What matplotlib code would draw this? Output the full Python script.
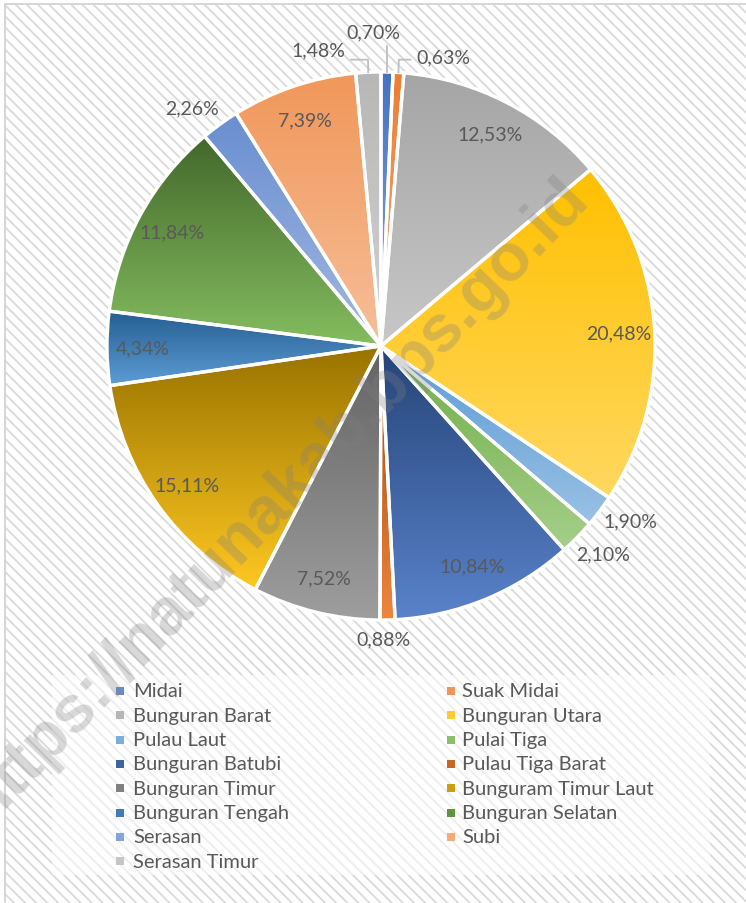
import colorsys
import numpy as np
import matplotlib
matplotlib.use("Agg")
import matplotlib.pyplot as plt
import matplotlib.colors as mcolors
from matplotlib.patches import Rectangle
from matplotlib.lines import Line2D

plt.rcParams['font.family'] = ['Lato', 'DejaVu Sans']
plt.rcParams['hatch.linewidth'] = 1.3

kecamatan = ['Midai', 'Suak Midai', 'Bunguran Barat', 'Bunguran Utara', 'Pulau Laut',
             'Pulai Tiga', 'Bunguran Batubi', 'Pulau Tiga Barat', 'Bunguran Timur',
             'Bunguram Timur Laut', 'Bunguran Tengah', 'Bunguran Selatan', 'Serasan',
             'Subi', 'Serasan Timur']
persen = [0.70, 0.63, 12.53, 20.48, 1.90, 2.10, 10.84, 0.88, 7.52, 15.11, 4.34,
          11.84, 2.26, 7.39, 1.48]
warna = ['#4472C4', '#ED7D31', '#A5A5A5', '#FFC000', '#5B9BD5', '#70AD47', '#264478',
         '#9E480E', '#636363', '#997300', '#255E91', '#43682B', '#698ED0', '#F1975A',
         '#B7B7B7']

# labels outside the pie: (angle shift, radius) - shifted ones at the top are crowded
luar = {'Midai': (2.7, 1.146), 'Suak Midai': (-8.5, 1.08), 'Pulau Laut': (2.0, 1.11),
        'Pulai Tiga': (1.2, 1.11), 'Pulau Tiga Barat': (-0.8, 1.07),
        'Serasan': (2.5, 1.11), 'Serasan Timur': (9.3, 1.105)}
pakai_garis = ['Midai', 'Suak Midai', 'Serasan Timur']

W, H = 746, 904
TEKS = '#595959'


def gradasi(c):
    r, g, b = mcolors.to_rgb(c)
    h, l, s = colorsys.rgb_to_hls(r, g, b)
    atas = colorsys.hls_to_rgb(h, l, s)
    bawah = colorsys.hls_to_rgb(h, l + (1 - l) * 0.38, s)
    return np.array(atas), np.array(bawah)


fig = plt.figure(figsize=(W / 100, H / 100), dpi=100)
fig.patch.set_facecolor('white')

# hatched background + thin frame
fig.patches.append(Rectangle((6 / W, 0), 1, 1 - 6 / H, transform=fig.transFigure,
                             facecolor='white', edgecolor='#DADADA', hatch='\\\\\\',
                             linewidth=0, zorder=-10))
fig.patches.append(Rectangle((5 / W, -0.01), 1.1, 1 - 5 / H + 0.01, transform=fig.transFigure,
                             facecolor='none', edgecolor='#D0D0D0', linewidth=1.2, zorder=-9))
# legend box
fig.patches.append(Rectangle((52 / W, 1 - 876 / H), 658 / W, 200 / H, transform=fig.transFigure,
                             facecolor='white', alpha=0.55, edgecolor='none', zorder=-8))

R = 274
cx, cy = 381, 347
span = 1.2
ax = fig.add_axes([(cx - span * R) / W, (H - cy - span * R) / H, 2 * span * R / W, 2 * span * R / H])
ax.set_facecolor('none')

wedges, _ = ax.pie(persen, startangle=90, counterclock=False, radius=1,
                   wedgeprops=dict(edgecolor='white', linewidth=2.4))

for w, c in zip(wedges, warna):
    t = np.radians(np.linspace(w.theta1, w.theta2, 200))
    xs = np.concatenate([[w.center[0]], w.center[0] + w.r * np.cos(t)])
    ys = np.concatenate([[w.center[1]], w.center[1] + w.r * np.sin(t)])
    atas, bawah = gradasi(c)
    f = np.linspace(0, 1, 256)[:, None, None]
    img = atas[None, None, :] * (1 - f) + bawah[None, None, :] * f
    im = ax.imshow(img, extent=[xs.min(), xs.max(), ys.min(), ys.max()], origin='upper',
                   aspect='auto', interpolation='bilinear', zorder=1)
    im.set_clip_path(w)
    w.set_facecolor('none')
    w.set_zorder(3)

for w, nama, v in zip(wedges, kecamatan, persen):
    mid = (w.theta1 + w.theta2) / 2
    teks = f"{v:.2f}%".replace('.', ',')
    if nama in luar:
        geser, rr = luar[nama]
        a = np.radians(mid + geser)
        x, y = rr * np.cos(a), rr * np.sin(a)
        ax.text(x, y, teks, ha='center', va='center', fontsize=14, color=TEKS, zorder=5)
        if nama in pakai_garis:
            m = np.radians(mid)
            x0, y0 = np.cos(m), np.sin(m)
            if nama == 'Midai':
                ax.add_line(Line2D([x0, x0], [y0, y - 0.05], color='#BFBFBF', lw=1.3, zorder=4))
            else:
                sisi = x - 0.12 if x > x0 else x + 0.12
                ax.add_line(Line2D([x0, x0 * 1.02, sisi], [y0, 1.045, 1.045],
                                   color='#BFBFBF', lw=1.3, zorder=4))
    else:
        a = np.radians(mid)
        rr = 0.87
        ax.text(rr * np.cos(a), rr * np.sin(a), teks, ha='center', va='center',
                fontsize=14, color=TEKS, zorder=5)

ax.set_xlim(-span, span)
ax.set_ylim(-span, span)
ax.set_aspect('equal')
ax.axis('off')

# legend, two columns, row by row
for i, (nama, c) in enumerate(zip(kecamatan, warna)):
    baris, kolom = i // 2, i % 2
    ypx = 692 + baris * 24.3
    mx = 120 if kolom == 0 else 451
    tx = 133 if kolom == 0 else 462
    atas, bawah = gradasi(c)
    fig.patches.append(Rectangle(((mx - 4) / W, 1 - (ypx + 4) / H), 8 / W, 8 / H,
                                 transform=fig.transFigure, facecolor=(atas + bawah) / 2,
                                 edgecolor='none', zorder=2))
    fig.text(tx / W, 1 - ypx / H, nama, ha='left', va='center', fontsize=14.5, color=TEKS)

# watermark
fig.text(276 / W, 1 - 501 / H, 'https://natunakab.bps.go.id', rotation=46,
         ha='center', va='center', fontsize=48, fontweight='bold',
         family='Liberation Sans', color='#7F7F7F', alpha=0.3, zorder=10)

fig.savefig('out.png', dpi=100)
